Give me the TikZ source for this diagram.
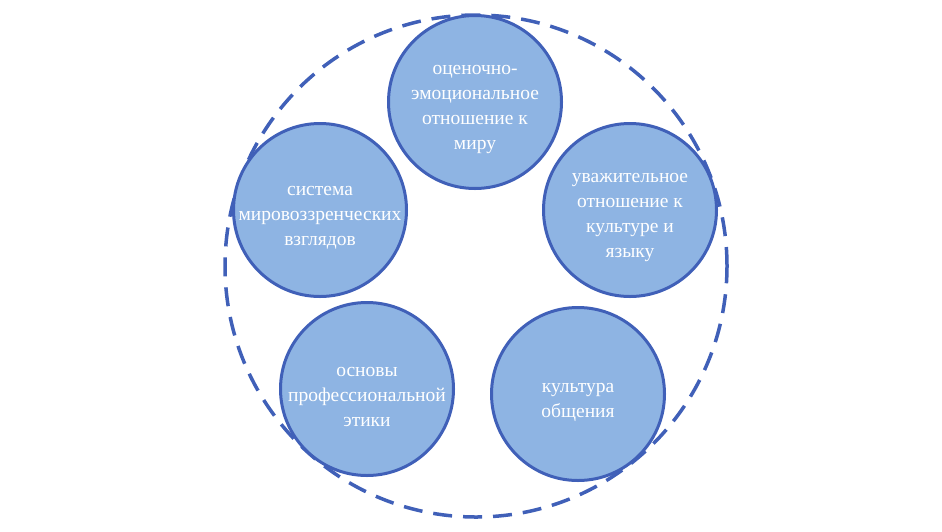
\documentclass[tikz,border=0pt]{standalone}
\usepackage{fontspec}
\setmainfont{Liberation Serif}
\begin{document}
\begin{tikzpicture}[x=1pt, y=-1pt,
  ring/.style={draw=rim, line width=3.5pt, dash pattern=on 19pt off 11pt},
  bubble/.style={circle, draw=rim, fill=blob, line width=3pt, minimum size=173pt, inner sep=0pt},
  caption/.style={text=white, align=center, yshift=-8pt, font=\fontsize{19.5}{25}\selectfont}]
\definecolor{rim}{HTML}{4060B8}
\definecolor{blob}{HTML}{8EB4E3}
\useasboundingbox (0,0) rectangle (942,531);
\draw[ring] (476,266) circle (251pt);
\node[bubble, label={[caption]center:{оценочно-\\эмоциональное\\отношение к\\миру}}] (eval) at (475,102) {};
\node[bubble, label={[caption]center:{система\\мировоззренческих\\взглядов}}] (sys) at (320,210) {};
\node[bubble, label={[caption]center:{уважительное\\отношение к\\культуре и\\языку}}] (resp) at (630,210) {};
\node[bubble, label={[caption]center:{основы\\профессиональной\\этики}}] (ethics) at (367,389) {};
\node[bubble, label={[caption]center:{культура\\общения}}] (comm) at (578,394) {};
\end{tikzpicture}
\end{document}
